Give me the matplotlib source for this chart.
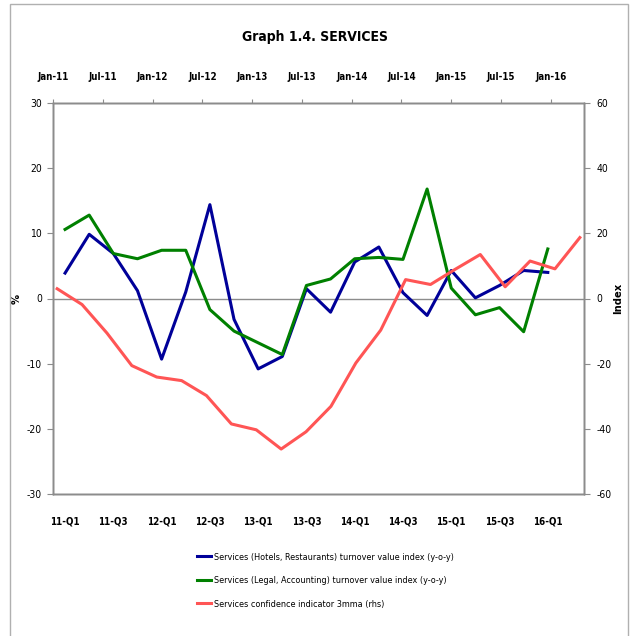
import numpy as np
import pandas as pd
import matplotlib
matplotlib.use('Agg')
import matplotlib.pyplot as plt
from matplotlib.lines import Line2D

plt.rcParams['font.family'] = ['DejaVu Sans']
plt.rcParams['font.stretch'] = 'condensed'
plt.rcParams['axes.unicode_minus'] = False

# quarterly categories (bottom axis)
quarters = ['11-Q1', '11-Q2', '11-Q3', '11-Q4', '12-Q1', '12-Q2', '12-Q3', '12-Q4',
            '13-Q1', '13-Q2', '13-Q3', '13-Q4', '14-Q1', '14-Q2', '14-Q3', '14-Q4',
            '15-Q1', '15-Q2', '15-Q3', '15-Q4', '16-Q1', '16-Q2']

# y-o-y, %
hotels = [3.9, 9.85, 6.9, 1.2, -9.3, 1.0, 14.4, -3.2, -10.8, -8.9, 1.5,
          -2.1, 5.6, 7.9, 0.9, -2.6, 4.3, 0.1, 2.0, 4.3, 4.0, np.nan]
legal = [10.6, 12.8, 6.9, 6.1, 7.4, 7.4, -1.7, -5.0, -6.8, -8.6, 2.0,
         3.0, 6.1, 6.3, 6.0, 16.8, 1.6, -2.5, -1.4, -5.1, 7.6, np.nan]

# confidence indicator, 3mma (rhs), one value per quarter-start month
conf_dates = pd.date_range('2011-01-01', periods=22, freq='QS')
confidence = [3.0, -1.85, -10.6, -20.6, -24.1, -25.2, -29.8, -38.5, -40.3, -46.2, -40.9,
              -33.1, -19.8, -9.7, 5.8, 4.3, 9.0, 13.5, 3.6, 11.5, 9.1, 18.7]

top_labels = ['Jan-11', 'Jul-11', 'Jan-12', 'Jul-12', 'Jan-13', 'Jul-13',
              'Jan-14', 'Jul-14', 'Jan-15', 'Jul-15', 'Jan-16']

blue = '#000099'
green = '#008000'
red = '#ff5555'
grey = '#8c8c8c'

fig = plt.figure(figsize=(6.31, 6.36), dpi=100)
ax = fig.add_axes([53/631, 1 - 494/636, 531/631, 391/636])

xq = np.arange(len(quarters))
ax.plot(xq, hotels, color=blue, lw=2.2)
ax.plot(xq, legal, color=green, lw=2.2)
ax.axhline(0, color=grey, lw=1, zorder=0)
ax.set_xlim(-0.5, len(quarters) - 0.5)
ax.set_ylim(-30, 30)
ax.set_yticks(range(-30, 31, 10))
ax.set_xticks(xq[::2])
ax.set_xticklabels(quarters[::2], fontweight='bold', fontsize=7)
ax.tick_params(axis='x', length=0, pad=16)
ax.tick_params(axis='y', direction='out', length=4, color=grey, labelsize=7.5, pad=4)
ax.set_ylabel('%', fontweight='bold', fontsize=8)
ax.yaxis.set_label_coords((22 - 53) / 531, 0.5)

ax2 = ax.twinx()
ax2.set_ylim(-60, 60)
ax2.set_yticks(range(-60, 61, 20))
ax2.tick_params(axis='y', direction='out', length=4, color=grey, labelsize=7.5, pad=5)
ax2.set_ylabel('Index', fontweight='bold', fontsize=8, rotation=90)
ax2.yaxis.set_label_coords((613 - 53) / 531, 0.5)

ax3 = ax2.twiny()
months = (conf_dates.year - 2011) * 12 + conf_dates.month - 1 + 0.5
ax3.plot(months, confidence, color=red, lw=2.2)
ax3.set_xlim(0, 64)
ax3.set_xticks(range(0, 61, 6))
ax3.set_xticklabels(top_labels, fontweight='bold', fontsize=7)
ax3.tick_params(axis='x', direction='out', length=3, color=grey, pad=12)

for a in (ax, ax2, ax3):
    for s in a.spines.values():
        s.set_color(grey)
        s.set_linewidth(1)

fig.text(0.5, 1 - 37/636, 'Graph 1.4. SERVICES', ha='center', va='center',
         fontweight='bold', fontsize=10)

handles = [Line2D([], [], color=blue, lw=2.2),
           Line2D([], [], color=green, lw=2.2),
           Line2D([], [], color=red, lw=2.2)]
labels = ['Services (Hotels, Restaurants) turnover value index (y-o-y)',
          'Services (Legal, Accounting) turnover value index (y-o-y)',
          'Services confidence indicator 3mma (rhs)']
fig.legend(handles, labels, loc='upper left', bbox_to_anchor=(193/631, 1 - 549/636),
           frameon=False, fontsize=6.5, handlelength=1.6, handletextpad=0.3,
           labelspacing=1.6, borderaxespad=0)

fig.add_artist(plt.Rectangle((10/631, -0.01), 618/631, 1 - 4/636 + 0.01,
                             transform=fig.transFigure, fill=False,
                             edgecolor='#b0b0b0', lw=1))

fig.savefig('out.png', dpi=100)
